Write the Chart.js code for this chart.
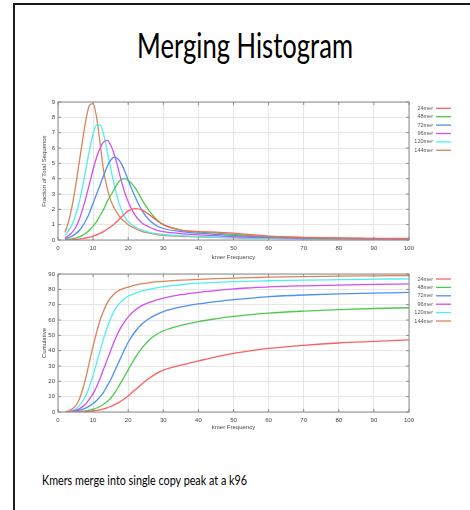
<!DOCTYPE html>
<html>
<head>
<meta charset="utf-8">
<script src="https://cdn.jsdelivr.net/npm/chart.js@4.4.1/dist/chart.umd.min.js"></script>
<style>
    html, body { margin: 0; padding: 0; background: #fff; width: 470px; height: 510px; overflow: hidden; }
    #marco { position: absolute; left: 13px; top: 3px; width: 470px; height: 520px; border-left: 2px solid #1b1b1b; border-top: 2px solid #1b1b1b; }
    .texto { position: absolute; white-space: nowrap; font-family: Lato, "Open Sans", sans-serif; color: #000; transform-origin: 0 0; }
    #titulo { top: 27px; font-size: 35px; line-height: 35px; }
    #pie { top: 473px; font-size: 14px; line-height: 14px; }
    canvas { position: absolute; left: 0; }
    #histograma { top: 95px; }
    #acumulado { top: 265px; }
</style>
</head>
<body>
<div id="marco"></div>
<span id="titulo" class="texto">Merging Histogram</span>
<canvas id="histograma" width="470" height="170"></canvas>
<canvas id="acumulado" width="470" height="170"></canvas>
<span id="pie" class="texto">Kmers merge into single copy peak at a k96</span>
<script>
// eje x: frecuencia del kmer
const frecuencias = [2, 3, 4, 5, 6, 7, 8, 9, 10, 11, 12, 13, 14, 15, 16, 17, 18, 19, 20, 22, 24, 26, 28, 30, 35, 40, 45, 50, 55, 60, 70, 80, 90, 100];

const etiquetas = ['24mer', '48mer', '72mer', '96mer', '120mer', '144mer'];
const colores = ['#ff5f5f', '#4fc94f', '#4f8ff5', '#d34ff0', '#4feef0', '#d8855a'];

// fraccion de la secuencia total
const frac24 = [0.01, 0.02, 0.03, 0.04, 0.06, 0.09, 0.13, 0.18, 0.25, 0.33, 0.43, 0.55, 0.7, 0.87, 1.05, 1.25, 1.5, 1.7, 1.9, 2.05, 1.95, 1.65, 1.3, 1.0, 0.65, 0.55, 0.52, 0.45, 0.35, 0.25, 0.17, 0.13, 0.11, 0.1];
const frac48 = [0.03, 0.05, 0.08, 0.12, 0.2, 0.3, 0.45, 0.65, 0.9, 1.2, 1.6, 2.0, 2.5, 2.9, 3.3, 3.7, 3.95, 4.0, 3.9, 3.4, 2.6, 1.9, 1.35, 1.0, 0.65, 0.52, 0.45, 0.36, 0.28, 0.22, 0.15, 0.11, 0.09, 0.08];
const frac72 = [0.08, 0.15, 0.25, 0.4, 0.6, 0.9, 1.3, 1.8, 2.4, 3.0, 3.6, 4.2, 4.8, 5.2, 5.4, 5.3, 5.0, 4.5, 3.9, 2.8, 1.9, 1.3, 0.95, 0.75, 0.55, 0.45, 0.37, 0.3, 0.24, 0.19, 0.13, 0.1, 0.08, 0.07];
const frac96 = [0.15, 0.3, 0.5, 0.8, 1.3, 2.0, 2.8, 3.7, 4.6, 5.4, 6.0, 6.4, 6.5, 6.2, 5.6, 4.8, 3.9, 3.1, 2.5, 1.6, 1.1, 0.85, 0.65, 0.55, 0.42, 0.34, 0.28, 0.22, 0.18, 0.15, 0.11, 0.09, 0.07, 0.06];
const frac120 = [0.3, 0.6, 1.0, 1.6, 2.4, 3.5, 4.7, 5.9, 6.9, 7.5, 7.5, 6.9, 5.8, 4.7, 3.6, 2.7, 2.0, 1.5, 1.2, 0.85, 0.65, 0.5, 0.42, 0.36, 0.28, 0.22, 0.18, 0.15, 0.12, 0.1, 0.08, 0.06, 0.05, 0.04];
const frac144 = [0.5, 1.2, 2.2, 3.5, 5.0, 6.5, 7.9, 8.8, 8.9, 8.0, 6.3, 4.5, 3.4, 2.6, 2.1, 1.7, 1.4, 1.2, 1.0, 0.75, 0.55, 0.45, 0.35, 0.3, 0.24, 0.2, 0.17, 0.14, 0.12, 0.1, 0.08, 0.06, 0.05, 0.04];

// acumulado
const cum24 = [0, 0, 0, 0, 0.1, 0.2, 0.3, 0.5, 0.7, 1, 1.4, 2, 2.7, 3.6, 4.6, 5.8, 7.2, 8.8, 10.5, 14.5, 18.5, 22, 25, 27.3, 30.5, 33.3, 36, 38.3, 40, 41.5, 43.5, 45, 46, 47];
const cum48 = [0, 0, 0.1, 0.2, 0.3, 0.5, 0.8, 1.2, 1.8, 2.6, 3.6, 5, 6.8, 9, 12, 15.5, 19.5, 23.5, 27.5, 35.5, 42, 47, 50.5, 53, 56.5, 59, 60.8, 62.3, 63.5, 64.5, 65.8, 66.8, 67.5, 68];
const cum72 = [0, 0.1, 0.3, 0.6, 1, 1.7, 2.7, 4, 5.5, 7.5, 10, 13, 17, 21, 26, 31, 36, 41, 45.5, 52.5, 57.5, 61, 63.5, 65.5, 68.5, 70.5, 72, 73.3, 74.3, 75.2, 76.3, 77, 77.5, 78];
const cum96 = [0, 0.2, 0.5, 1, 2, 3.5, 5.5, 8.5, 12, 16.5, 22, 28, 34, 40, 46, 51, 55.5, 59, 62, 66.5, 69.5, 71.5, 73, 74.3, 76.5, 78, 79.2, 80.3, 81, 81.6, 82.3, 82.8, 83.2, 83.5];
const cum120 = [0, 0.4, 1, 2, 4, 7, 11, 17, 24, 32, 40, 48, 55, 61, 66, 69.5, 72, 74, 75.5, 77.5, 79, 80, 81, 81.8, 83, 84, 84.6, 85, 85.3, 85.6, 86, 86.3, 86.6, 86.8];
const cum144 = [0, 0.8, 2, 4, 8, 14.5, 23, 33, 43, 52, 60, 66, 71, 74.5, 77, 78.8, 80, 80.8, 81.5, 82.8, 83.7, 84.3, 84.8, 85.2, 86, 86.5, 87, 87.3, 87.6, 87.9, 88.3, 88.6, 88.8, 89];

const ticksX = [0, 10, 20, 30, 40, 50, 60, 70, 80, 90, 100];

function serie(i, valores) {
    return {
        label: etiquetas[i],
        data: frecuencias.map((x, k) => ({ x: x, y: valores[k] })),
        borderColor: colores[i],
        borderWidth: 1.3,
        pointRadius: 0,
        fill: false,
        cubicInterpolationMode: 'monotone'
    };
}

// leyenda a la derecha: texto y luego la muestra de linea
const leyendaDerecha = {
    id: 'leyendaDerecha',
    afterDraw(chart, args, opts) {
        const ctx = chart.ctx;
        ctx.save();
        ctx.font = '5.5px "Liberation Sans"';
        ctx.textAlign = 'right';
        ctx.textBaseline = 'middle';
        chart.data.datasets.forEach((ds, i) => {
            const y = opts.top + i * opts.step;
            ctx.fillStyle = '#555';
            ctx.fillText(ds.label, 433, y);
            ctx.strokeStyle = ds.borderColor;
            ctx.lineWidth = 1.3;
            ctx.beginPath();
            ctx.moveTo(436, y);
            ctx.lineTo(451, y);
            ctx.stroke();
        });
        ctx.restore();
    }
};

// caja alrededor del area con marcas hacia dentro (estilo gnuplot)
const cajaGnuplot = {
    id: 'cajaGnuplot',
    afterDatasetsDraw(chart) {
        const { ctx, chartArea: a, scales } = chart;
        ctx.save();
        ctx.strokeStyle = '#8c8c8c';
        ctx.lineWidth = 1;
        ctx.strokeRect(a.left, a.top, a.width, a.height);
        ctx.beginPath();
        scales.y.ticks.forEach(t => {
            const y = scales.y.getPixelForValue(t.value);
            ctx.moveTo(a.left, y); ctx.lineTo(a.left + 3, y);
            ctx.moveTo(a.right, y); ctx.lineTo(a.right - 3, y);
        });
        scales.x.ticks.forEach(t => {
            const x = scales.x.getPixelForValue(t.value);
            ctx.moveTo(x, a.bottom); ctx.lineTo(x, a.bottom - 3);
            ctx.moveTo(x, a.top); ctx.lineTo(x, a.top + 3);
        });
        ctx.stroke();
        ctx.restore();
    }
};

function opciones(maxY, pasoY, tituloY, arriba, leyendaTop) {
    return {
        responsive: false,
        animation: false,
        layout: { padding: { left: 0, top: arriba, right: 61, bottom: 0 } },
        plugins: {
            legend: { display: false },
            tooltip: { enabled: false },
            leyendaDerecha: { top: leyendaTop, step: 8.4 }
        },
        scales: {
            x: {
                type: 'linear',
                min: 0, max: 100,
                afterBuildTicks: s => { s.ticks = ticksX.map(v => ({ value: v })); },
                ticks: { font: { size: 6, family: 'Liberation Sans' }, color: '#444', padding: 5, maxRotation: 0 },
                grid: { color: '#e6e6e6', drawTicks: false },
                border: { display: false },
                title: { display: true, text: 'kmer Frequency', font: { size: 6, family: 'Liberation Sans' }, color: '#444', padding: { top: 0, bottom: 4 } },
                afterFit: s => { s.height = 170 - (arriba + 138 - arriba) - arriba; }
            },
            y: {
                min: 0, max: maxY,
                ticks: { stepSize: pasoY, font: { size: 6, family: 'Liberation Sans' }, color: '#444', padding: 3 },
                grid: { color: '#e6e6e6', drawTicks: false },
                border: { display: false },
                title: { display: true, text: tituloY, font: { size: 6, family: 'Liberation Sans' }, color: '#444', padding: { top: 41, bottom: 0 } },
                afterFit: s => { s.width = 58; }
            }
        }
    };
}

const histCtx = document.getElementById('histograma').getContext('2d');
const histChart = new Chart(histCtx, {
    type: 'line',
    data: {
        datasets: [serie(0, frac24), serie(1, frac48), serie(2, frac72), serie(3, frac96), serie(4, frac120), serie(5, frac144)]
    },
    options: opciones(9, 1, 'Fraction of Total Sequence', 7, 13.3),
    plugins: [cajaGnuplot, leyendaDerecha]
});

const acumCtx = document.getElementById('acumulado').getContext('2d');
const acumChart = new Chart(acumCtx, {
    type: 'line',
    data: {
        datasets: [serie(0, cum24), serie(1, cum48), serie(2, cum72), serie(3, cum96), serie(4, cum120), serie(5, cum144)]
    },
    options: opciones(90, 10, 'Cumulative', 9, 14),
    plugins: [cajaGnuplot, leyendaDerecha]
});

// el texto de la diapositiva es estrecho (Calibri), se ajusta al ancho medido
function ajustar(id, izquierda, ancho) {
    const el = document.getElementById(id);
    const w = el.getBoundingClientRect().width;
    el.style.left = izquierda + 'px';
    el.style.transform = 'scaleX(' + (ancho / w) + ')';
}
ajustar('titulo', 137, 216);
ajustar('pie', 42, 205);
</script>
</body>
</html>
